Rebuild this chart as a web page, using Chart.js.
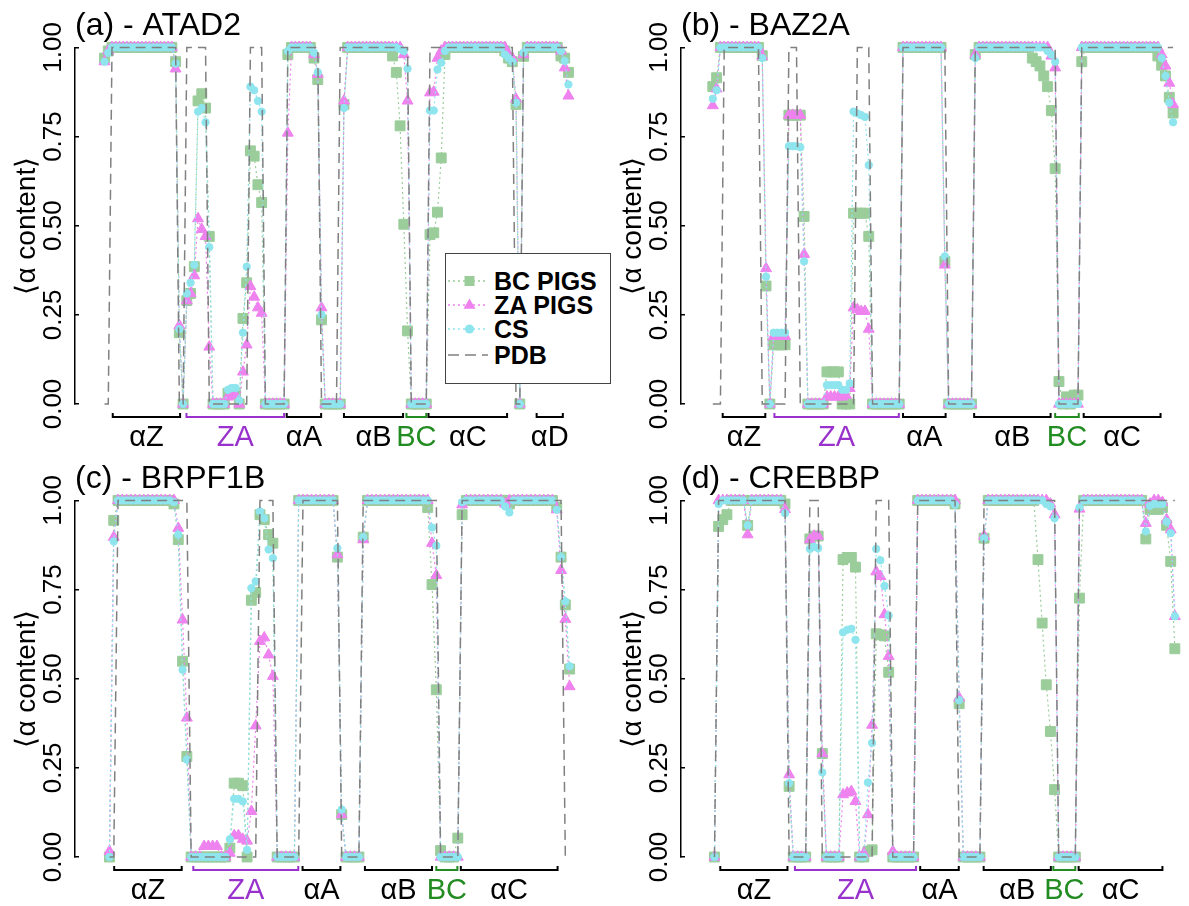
<!DOCTYPE html>
<html>
<head>
<meta charset="utf-8">
<script src="https://cdn.jsdelivr.net/npm/chart.js@4.4.1/dist/chart.umd.min.js"></script>
<style>
html,body{margin:0;padding:0;background:#fff;}
#fig{position:relative;width:1189px;height:906px;overflow:hidden;font-family:"Liberation Sans",Arial,sans-serif;}
#fig canvas{position:absolute;}
#legend{position:absolute;left:445px;top:253px;width:166px;height:131px;box-sizing:border-box;border:1.5px solid #444;background:#fff;}
#legend .row{position:absolute;left:0;height:24px;display:flex;align-items:center;}
#legend svg{position:absolute;left:1.5px;top:0;}
#legend span{position:absolute;left:48px;top:0;line-height:24px;font-weight:bold;font-size:25px;color:#000;white-space:nowrap;}
</style>
</head>
<body>
<div id="fig">
<canvas id="ca" width="600" height="453" style="left:0;top:0"></canvas>
<canvas id="cb" width="583" height="453" style="left:606px;top:0"></canvas>
<canvas id="cc" width="600" height="453" style="left:0;top:453px"></canvas>
<canvas id="cd" width="583" height="453" style="left:606px;top:453px"></canvas>
<div id="legend">
  <div class="row" style="top:15px"><svg width="40" height="24"><line x1="0" y1="12" x2="40" y2="12" stroke="#9bcd9b" stroke-width="1.3" stroke-dasharray="2 3"/><rect x="16.5" y="7" width="10" height="10" fill="#9bcd9b"/></svg><span>BC PIGS</span></div>
  <div class="row" style="top:39px"><svg width="40" height="24"><line x1="0" y1="12" x2="40" y2="12" stroke="#ee82ee" stroke-width="1.3" stroke-dasharray="2 3"/><polygon points="21.5,5.5 27.5,15.8 15.5,15.8" fill="#ee82ee"/></svg><span>ZA PIGS</span></div>
  <div class="row" style="top:63px"><svg width="40" height="24"><line x1="0" y1="12" x2="40" y2="12" stroke="#8ee5ee" stroke-width="1.3" stroke-dasharray="2 3"/><circle cx="21.5" cy="12" r="4.6" fill="#8ee5ee"/></svg><span>CS</span></div>
  <div class="row" style="top:89px"><svg width="40" height="24"><line x1="0" y1="12" x2="40" y2="12" stroke="#808080" stroke-width="1.6" stroke-dasharray="11 6"/></svg><span>PDB</span></div>
</div>
</div>
<script>
// ---------- labels ----------
const SERIES_NAMES = ['BC PIGS', 'ZA PIGS', 'CS', 'PDB'];
const PANEL_TITLES = ['(a) - ATAD2', '(b) - BAZ2A', '(c) - BRPF1B', '(d) - CREBBP'];
const Y_TICK_VALUES = [0, 0.25, 0.5, 0.75, 1];
const Y_TICK_LABELS = ['0.00', '0.25', '0.50', '0.75', '1.00'];
const Y_TITLE = '\u27E8\u03B1 content\u27E9';

// ---------- (a) ATAD2 : per-residue <alpha content> ----------
const bcA = [.97,.99,1,1,1,1,1,1,1,1, 1,1,1,1,1,1,1,1,1,.96, .2,0,.29,.31,.385,.85,.87,.83,.47,0,
  0,0,0,.03,.03,.03,0,.24,.34,.71, .695,.615,.565,0,0,0,0,0,0,.98, 1,1,1,1,1,1,.97,.91,.236,0,
  0,0,0,0,.84,1,1,1,1,1, 1,1,1,1,1,1,1,.976,.93,.78, .504,.205,0,0,0,0,0,.475,.48,.538,
  .69,.98,1,1,1,1,1,1,1,1, 1,1,1,1,1,1,1,.99,.97,.96, .84,0,.975,1,1,1,1,1,1,1, 1,1,.976,.97,.93];
const zaA = [.96,.99,1,1,1,1,1,1,1,1, 1,1,1,1,1,1,1,1,1,.94, .22,0,.29,.31,.36,.52,.49,.47,.16,0,
  0,0,0,.02,.025,.025,0,.09,.166,.33, .30,.27,.255,0,0,0,0,0,0,.76, 1,1,1,1,1,1,.98,.925,.27,0,
  0,0,0,0,.85,1,1,1,1,1, 1,1,1,1,1,1,1,1,1,1, .98,.85,0,0,0,0,0,.873,.875,.97,
  .99,1,1,1,1,1,1,1,1,1, 1,1,1,1,1,1,1,1,.98,.97, .855,0,.98,1,1,1,1,1,1,1, 1,1,.99,.943,.864];
const csA = [.96,.985,1,1,1,1,1,1,1,1, 1,1,1,1,1,1,1,1,1,.955, .21,0,.31,.34,.39,.82,.83,.79,.44,0,
  0,0,0,.04,.045,.045,.01,.2,.385,.89, .88,.85,.82,0,0,0,0,0,0,.99, 1,1,1,1,1,1,.985,.93,.25,0,
  0,0,0,0,.83,1,1,1,1,1, 1,1,1,1,1,1,1,1,1,.995, .99,.94,0,0,0,0,0,.823,.823,.938,
  .957,.99,1,1,1,1,1,1,1,1, 1,1,1,1,1,1,1,.98,.97,.96, .845,0,.985,1,1,1,1,1,1,1, 1,1,.99,.962,.896];
const pdbA = [0,0,1,1,1,1,1,1,1,1, 1,1,1,1,1,1,1,1,1,1, 0,0,1,1,1,1,1,1,0,0,
  0,0,0,0,0,0,0,0,0,1, 1,1,1,0,0,0,0,0,0,1, 1,1,1,1,1,1,1,1,0,0,
  0,0,0,1,1,1,1,1,1,1, 1,1,1,1,1,1,1,1,1,1, 1,1,0,0,0,0,0,1,1,1,
  1,1,1,1,1,1,1,1,1,1, 1,1,1,1,1,1,1,1,1,1, 0,0,1,1,1,1,1,1,1,1, 1,1,1,1,1];
const helixLabelsA = ['\u03B1Z', 'ZA', '\u03B1A', '\u03B1B', 'BC', '\u03B1C', '\u03B1D'];
const helixStartA = [2.2, 21.9, 48.7, 64, 80.7, 86.6, 115.5];
const helixEndA = [20.2, 48, 57.9, 79.8, 86, 107.6, 122.5];

// ---------- (b) BAZ2A ----------
const bcB = [.89,.915,1,1,1,1,1,1,1,1, 1,1,1,.977,.331,0,.166,.166,.166,.166, .81,.81,.81,.81,.526,0,0,0,0,0,
  .09,.09,.09,.09,0,0,0,.535,.535,.535, .535,.47,0,0,0,0,0,0,0,0, 1,1,1,1,1,1,1,1,1,1,
  1,.40,0,0,0,0,0,0,0,.98, 1,1,1,1,1,1,1,1,1,1, 1,1,1,1,.97,.96,.948,.92,.89,.823,
  .66,.063,0,.02,0,.025,.025,.96,1,1, 1,1,1,1,1,1,1,1,1,1, 1,1,1,1,1,1,1,.976,.95,.92, .86,.816];
const zaB = [.837,.884,1,1,1,1,1,1,1,1, 1,1,1,.975,.38,0,.19,.19,.19,.19, .81,.81,.81,.81,.42,0,0,0,0,0,
  .02,.02,.02,.02,.02,.025,.044,.27,.265,.26, .26,.21,0,0,0,0,0,0,0,0, 1,1,1,1,1,1,1,1,1,1,
  1,.39,0,0,0,0,0,0,0,.98, 1,1,1,1,1,1,1,1,1,1, 1,1,1,1,1,1,1,1,1,.976,
  .943,0,0,0,0,0,0,1,1,1, 1,1,1,1,1,1,1,1,1,1, 1,1,1,1,1,1,1,1,.98,.948, .9,.84];
const csB = [.856,.88,1,1,1,1,1,1,1,1, 1,1,1,.97,.357,0,.2,.2,.2,.2, .723,.723,.723,.72,.40,0,0,0,0,0,
  .053,.053,.053,.053,.04,.04,.058,.82,.815,.81, .805,.67,0,0,0,0,0,0,0,0, 1,1,1,1,1,1,1,1,1,1,
  1,.414,0,0,0,0,0,0,0,.97, 1,1,1,1,1,1,1,1,1,1, 1,1,1,1,1,1,1,1,.99,.98,
  .96,0,0,0,0,0,0,1,1,1, 1,1,1,1,1,1,1,1,1,1, 1,1,1,1,1,1,1,1,.97,.92, .845,.79];
const pdbB = [0,0,0,1,1,1,1,1,1,1, 1,1,1,0,0,0,0,0,0,0, 1,1,1,0,0,0,0,0,0,0,
  0,0,0,0,0,0,0,0,1,1, 1,1,0,0,0,0,0,0,0,0, 1,1,1,1,1,1,1,1,1,1,
  1,1,0,0,0,0,0,0,0,1, 1,1,1,1,1,1,1,1,1,1, 1,1,1,1,1,1,1,1,1,1,
  1,0,0,0,0,0,0,1,1,1, 1,1,1,1,1,1,1,1,1,1, 1,1,1,1,1,1,1,1,1,1, 1,1];
const helixLabelsB = ['\u03B1Z', 'ZA', '\u03B1A', '\u03B1B', 'BC', '\u03B1C'];
const helixStartB = [2.6, 16.2, 50, 68.7, 90, 97.5];
const helixEndB = [13.8, 48.9, 61.2, 88.8, 96.2, 117.7];

// ---------- (c) BRPF1B ----------
const bcC = [0,.944,1,1,1,1,1,1,1,1, 1,1,1,1,1,.99,.89,.549,.282,0, 0,0,0,0,0,0,0,0,.025,.207,
  .207,.2,0,.72,.742,.96,.946,.904,.88,0, 0,0,0,0,1,1,1,1,1,1, 1,1,1,.841,.119,0,0,0,0,.897,
  1,1,1,1,1,1,1,1,1,1, 1,1,1,1,.98,.764,.469,.018,0,0, 0,.053,.96,1,1,1,1,1,1,1,
  1,1,1,.99,1,1,1,1,1,1, 1,1,1,1,.98,.841,.707,.527];
const zaC = [.016,.897,1,1,1,1,1,1,1,1, 1,1,1,1,1,1,.922,.665,.39,0, 0,0,.03,.03,.03,.03,0,0,.011,.06,
  .06,.05,.045,.128,.368,.605,.615,.567,.507,0, 0,0,0,0,1,1,1,1,1,1, 1,1,1,.848,.119,0,0,0,0,.89,
  1,1,1,1,1,1,1,1,1,1, 1,1,1,1,1,.88,.79,0,0,0, 0,0,.988,1,1,1,1,1,1,1,
  1,1,.99,1,1,1,1,1,1,1, 1,1,1,1,.974,.804,.667,.478];
const csC = [0,.885,1,1,1,1,1,1,1,1, 1,1,1,1,1,.995,.904,.525,.273,0, 0,0,0,0,0,0,0,0,.05,.163,
  .163,.156,.02,.754,.773,.969,.95,.862,.838,0, 0,0,0,0,1,1,1,1,1,1, 1,1,1,.866,.133,0,0,0,0,.897,
  1,1,1,1,1,1,1,1,1,1, 1,1,1,1,1,.924,.873,0,0,0, 0,0,.995,1,1,1,1,1,1,1,
  1,1,.983,.966,1,1,1,1,1,1, 1,1,1,1,.974,.841,.717,.535];
const pdbC = [0,0,1,1,1,1,1,1,1,1, 1,1,1,1,1,1,1,1,1,0, 0,0,0,0,0,0,0,0,0,0,
  0,0,0,0,0,1,1,1,1,0, 0,0,0,0,0,1,1,1,1,1, 1,1,1,1,0,0,0,0,0,1,
  1,1,1,1,1,1,1,1,1,1, 1,1,1,1,1,1,1,0,0,0, 0,0,1,1,1,1,1,1,1,1,
  1,1,1,1,1,1,1,1,1,1, 1,1,1,1,1,1,0,0];
const helixLabelsC = ['\u03B1Z', 'ZA', '\u03B1A', '\u03B1B', 'BC', '\u03B1C'];
const helixStartC = [1.1, 19.5, 44.9, 59.4, 76, 81.7];
const helixEndC = [16.8, 43.9, 53.7, 75, 80.9, 104.2];

// ---------- (d) CREBBP ----------
const bcD = [0,.927,.946,.96,1,1,1,1,.93,1, 1,1,1,1,1,1,1,.99,.198,0, 0,0,0,.892,.9,.9,.29,0,0,0,
  0,.834,.84,.84,.813,0,0,.016,.02,.626, .623,.62,.518,0,0,0,0,0,0,1, 1,1,1,1,1,1,1,1,.99,.43,
  0,0,0,0,0,.894,1,1,1,1, 1,1,1,1,1,1,1,1,.834,.656, .483,.352,.189,0,0,0,0,0,.726,1,
  1,1,1,1,1,1,1,1,1,1, 1,1,1,1,.892,.975,.975,.975,.98,.93, .829,.584];
const zaD = [0,1,1,1,1,1,1,1,.904,1, 1,1,1,1,1,1,1,.975,.231,0, 0,0,0,.89,.9,.9,.29,0,0,0,
  0,.175,.18,.184,.156,0,.01,.119,.37,.8, .787,.68,.563,.016,0,0,0,0,0,1, 1,1,1,1,1,1,1,1,1,.446,
  0,0,0,0,0,.9,1,1,1,1, 1,1,1,1,1,1,1,1,1,1, 1,.99,.96,0,0,0,0,0,.976,1,
  1,1,1,1,1,1,1,1,1,1, 1,1,1,1,.936,.99,1,1,.995,.946, .918,.675];
const csD = [0,.99,1,1,1,1,1,1,.93,1, 1,1,1,1,1,1,1,.964,.207,0, 0,0,0,.864,.87,.866,.237,0,0,0,
  0,.63,.637,.64,.609,0,0,.209,.32,.864, .832,.76,.677,0,0,0,0,0,0,1, 1,1,1,1,1,1,1,1,.988,.44,
  0,0,0,0,0,.894,1,1,1,1, 1,1,1,1,1,1,1,1,1,1, .99,.983,.95,0,0,0,0,0,.98,1,
  1,1,1,1,1,1,1,1,1,1, 1,1,1,1,.913,.985,.99,.99,.99,.94, .908,.675];
const pdbD = [0,1,1,1,1,1,1,1,1,1, 1,1,1,1,1,1,1,1,0,0, 0,0,0,1,1,1,0,0,0,0,
  0,0,0,0,0,0,0,0,0,1, 1,1,1,0,0,0,0,0,0,1, 1,1,1,1,1,1,1,1,1,0,
  0,0,0,0,0,1,1,1,1,1, 1,1,1,1,1,1,1,1,1,1, 1,1,1,0,0,0,0,0,1,1,
  1,1,1,1,1,1,1,1,1,1, 1,1,1,1,1,1,1,1,1,1, 1,1];
const helixLabelsD = ['\u03B1Z', 'ZA', '\u03B1A', '\u03B1B', 'BC', '\u03B1C'];
const helixStartD = [1.4, 19.4, 49.6, 64.9, 81.7, 87.8];
const helixEndD = [17.6, 48.6, 58.9, 81.1, 87, 108];

// ---------- styling ----------
const FONT = '"Liberation Sans", Arial, Helvetica, sans-serif';
const GREEN = '#9bcd9b', VIOLET = '#ee82ee', CYAN = '#8ee5ee', GREY = '#808080';

const helixPlugin = {
  id: 'helix',
  afterDraw(chart, args, opts) {
    const {ctx, chartArea, scales} = chart;
    const xs = scales.x;
    const yLine = chartArea.bottom + 13;
    ctx.save();
    ctx.lineWidth = 2;
    ctx.font = '29px ' + FONT;
    ctx.textAlign = 'center';
    ctx.textBaseline = 'middle';
    opts.labels.forEach((lab, k) => {
      const x1 = xs.getPixelForValue(opts.start[k]);
      const x2 = xs.getPixelForValue(opts.end[k]);
      const col = lab === 'ZA' ? '#9932cc' : (lab === 'BC' ? '#228b22' : '#000000');
      ctx.strokeStyle = col;
      ctx.fillStyle = col;
      ctx.beginPath();
      ctx.moveTo(x1, yLine - 4);
      ctx.lineTo(x1, yLine);
      ctx.lineTo(x2, yLine);
      ctx.lineTo(x2, yLine - 4);
      ctx.stroke();
      ctx.fillText(lab, (x1 + x2) / 2, chartArea.bottom + 34);
    });
    ctx.restore();
  }
};

function toPoints(arr) { return arr.map((v, i) => ({x: i, y: v})); }

function makeChart(id, title, bc, za, cs, pdb, xmin, xmax, hl, hs, he) {
  const dotted = {showLine: true, borderWidth: 1.2, borderDash: [2, 3], tension: 0, clip: false, pointBorderWidth: 1};
  new Chart(document.getElementById(id), {
    type: 'line',
    data: {
      datasets: [
        Object.assign({label: SERIES_NAMES[0], data: toPoints(bc), borderColor: GREEN, backgroundColor: GREEN,
          pointBorderColor: GREEN, pointBackgroundColor: GREEN, pointStyle: 'rect', pointRadius: 7, order: 4}, dotted),
        Object.assign({label: SERIES_NAMES[1], data: toPoints(za), borderColor: VIOLET, backgroundColor: VIOLET,
          pointBorderColor: VIOLET, pointBackgroundColor: VIOLET, pointStyle: 'triangle', pointRadius: 6.3, order: 3}, dotted),
        Object.assign({label: SERIES_NAMES[2], data: toPoints(cs), borderColor: CYAN, backgroundColor: CYAN,
          pointBorderColor: CYAN, pointBackgroundColor: CYAN, pointStyle: 'circle', pointRadius: 3.7, order: 2}, dotted),
        {label: SERIES_NAMES[3], data: toPoints(pdb), borderColor: GREY, borderWidth: 1.5, borderDash: [10, 6],
          pointRadius: 0, tension: 0, clip: false, order: 1}
      ]
    },
    options: {
      responsive: false,
      animation: false,
      events: [],
      layout: {padding: {left: 0, right: 0, top: 0, bottom: 49}},
      plugins: {
        legend: {display: false},
        tooltip: {enabled: false},
        title: {display: true, text: title, align: 'start', fullSize: false, color: '#000',
          font: {size: 32, family: FONT, weight: 'normal'}, padding: {top: 7, bottom: 2}},
        helix: {labels: hl, start: hs, end: he}
      },
      scales: {
        x: {type: 'linear', min: xmin, max: xmax, display: false},
        y: {
          min: 0, max: 1,
          afterFit(s) { s.width = 75; },
          border: {display: true, color: '#000', width: 1.5},
          grid: {display: true, drawOnChartArea: false, drawTicks: true, tickLength: -4, color: '#000', lineWidth: 1.5},
          ticks: {stepSize: 0.25, minRotation: 90, maxRotation: 90, crossAlign: 'center', padding: 0, color: '#000',
            font: {size: 26, family: FONT},
            callback: (v) => Y_TICK_LABELS[Y_TICK_VALUES.indexOf(v)]},
          title: {display: true, text: Y_TITLE, color: '#000', font: {size: 28, family: FONT}, padding: {top: 10, bottom: 0}}
        }
      }
    },
    plugins: [helixPlugin]
  });
}

makeChart('ca', PANEL_TITLES[0], bcA, zaA, csA, pdbA, -7.89, 130.3, helixLabelsA, helixStartA, helixEndA);
makeChart('cb', PANEL_TITLES[1], bcB, zaB, csB, pdbB, -8.36, 123.08, helixLabelsB, helixStartB, helixEndB);
makeChart('cc', PANEL_TITLES[2], bcC, zaC, csC, pdbC, -8.01, 112.2, helixLabelsC, helixStartC, helixEndC);
makeChart('cd', PANEL_TITLES[3], bcD, zaD, csD, pdbD, -8.07, 112.48, helixLabelsD, helixStartD, helixEndD);
</script>
</body>
</html>
